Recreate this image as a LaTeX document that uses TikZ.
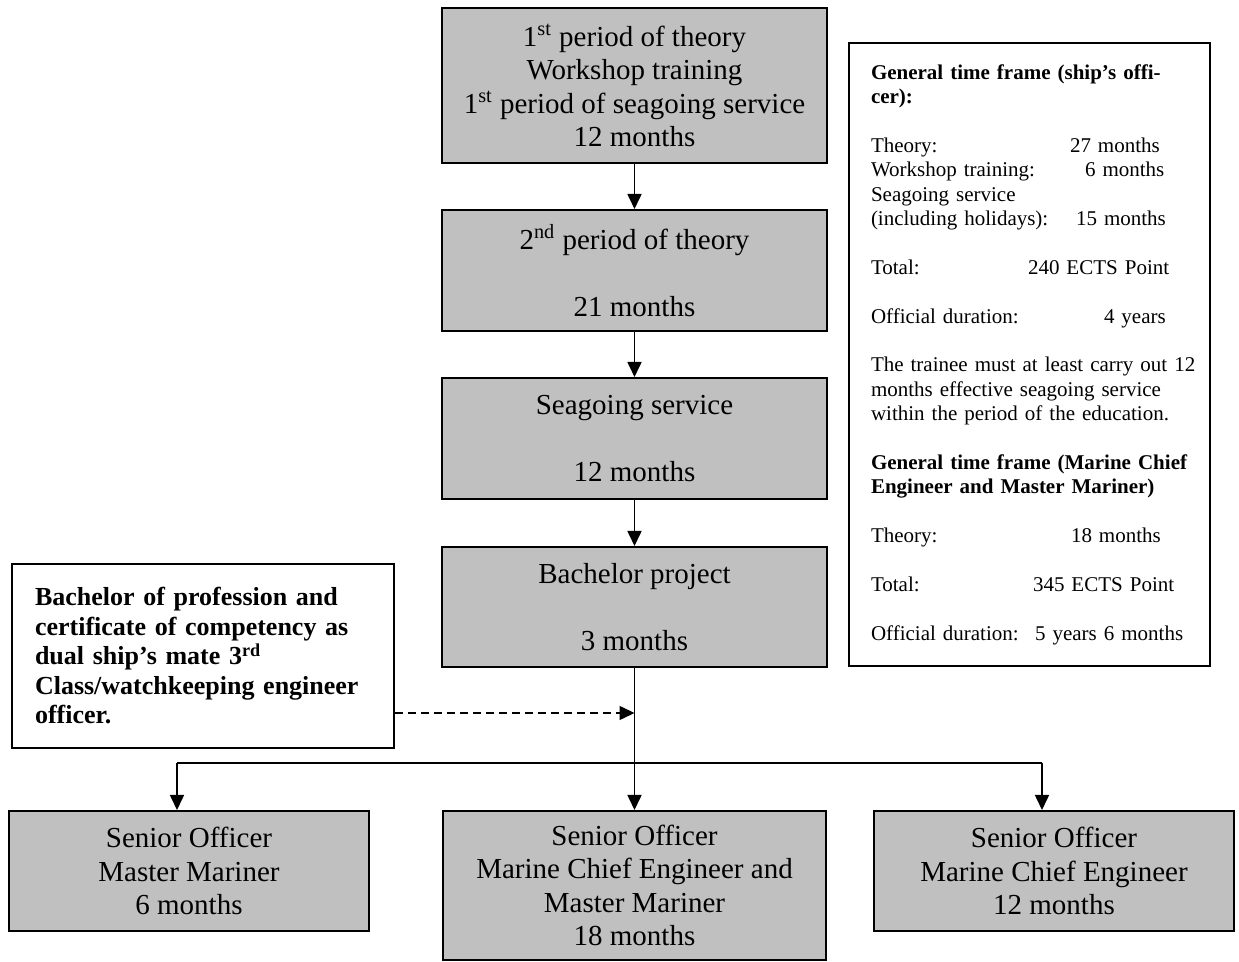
\documentclass[tikz,border=0pt]{standalone}
\usepackage{fontspec}
\setmainfont{Liberation Serif}
\usepackage{tikz}
\usetikzlibrary{arrows.meta}
\tikzset{>={Triangle[width=7pt,length=7.5pt]}}
\definecolor{boxgray}{HTML}{C0C0C0}
\newcommand{\timerow}[3]{\makebox[#2][l]{#1}#3}

\begin{document}
\begin{tikzpicture}[x=0.5pt, y=-0.5pt,
  stage/.style={draw, line width=1pt, fill=boxgray, inner sep=0pt,
    align=center, minimum width=192.5pt,
    font=\fontsize{14.5}{16.75}\selectfont},
  officer/.style={stage, minimum width=180pt, minimum height=60pt},
  note/.style={draw, line width=1pt, fill=white, inner sep=0pt, align=left},
  flow/.style={->, line width=0.8pt}]

  \useasboundingbox (0,0) rectangle (1239,962);

  %% main column
  \node[stage, minimum height=77.5pt] (theory1) at (634.5,85.5)
    {1\textsuperscript{st} period of theory\\Workshop training\\
     1\textsuperscript{st} period of seagoing service\\12 months};
  \node[stage, minimum height=60.5pt] (theory2) at (634.5,270.5)
    {2\textsuperscript{nd} period of theory\\[16.75pt]21 months};
  \node[stage, minimum height=60.5pt] (seagoing) at (634.5,438.5)
    {Seagoing service\\[16.75pt]12 months};
  \node[stage, minimum height=60pt] (project) at (634.5,607)
    {Bachelor project\\[16.75pt]3 months};

  %% senior officer boxes
  \node[officer] (master) at (189,871)
    {Senior Officer\\Master Mariner\\6 months};
  \node[officer, minimum width=191.5pt, minimum height=74.5pt] (both) at (634.5,885.5)
    {Senior Officer\\Marine Chief Engineer and\\Master Mariner\\18 months};
  \node[officer] (chief) at (1054,871)
    {Senior Officer\\Marine Chief Engineer\\12 months};

  %% certificate
  \node[note, minimum width=191pt, minimum height=92pt, text width=168pt,
    font=\fontsize{13}{14.75}\selectfont\bfseries] (bachelor) at (203,656)
    {Bachelor of profession and\\certificate of competency as\\
     dual ship’s mate 3\textsuperscript{rd}\\Class/watchkeeping engineer\\
     officer.\\[-6pt]};

  %% time frame
  \node[note, minimum width=180.5pt, minimum height=311.5pt, text width=158.5pt,
    font=\fontsize{10.5}{12.2}\selectfont] (timeframe) at (1029.5,354.5)
    {\textbf{General time frame (ship’s offi-}\\\textbf{cer):}\\[12.2pt]
     \timerow{Theory:}{99.5pt}{27 months}\\
     \timerow{Workshop training:}{107pt}{6 months}\\
     Seagoing service\\
     \timerow{(including holidays):}{102.5pt}{15 months}\\[12.2pt]
     \timerow{Total:}{78.5pt}{240 ECTS Point}\\[12.2pt]
     \timerow{Official duration:}{116.5pt}{4 years}\\[12.2pt]
     \mbox{The trainee must at least carry out 12}\\
     months effective seagoing service\\
     within the period of the education.\\[12.2pt]
     \textbf{General time frame (Marine Chief}\\
     \textbf{Engineer and Master Mariner)}\\[12.2pt]
     \timerow{Theory:}{100pt}{18 months}\\[12.2pt]
     \timerow{Total:}{81pt}{345 ECTS Point}\\[12.2pt]
     \timerow{Official duration:}{82pt}{5 years 6 months}};

  \draw[flow] (theory1) -- (theory2);
  \draw[flow] (theory2) -- (seagoing);
  \draw[flow] (seagoing) -- (project);
  \draw[flow] (project) -- (both);

  \coordinate (leftdrop) at (177,763);
  \coordinate (rightdrop) at (1042,763);
  \coordinate (dashend) at (634.5,713);
  \draw[line width=0.8pt] (leftdrop) -- (rightdrop);
  \draw[flow] (leftdrop) -- (leftdrop |- master.north);   %% to master mariner
  \draw[flow] (rightdrop) -- (rightdrop |- chief.north);  %% to chief engineer
  \draw[flow, dash pattern=on 4pt off 2.5pt] (bachelor.east |- dashend) -- (dashend);
\end{tikzpicture}
\end{document}
